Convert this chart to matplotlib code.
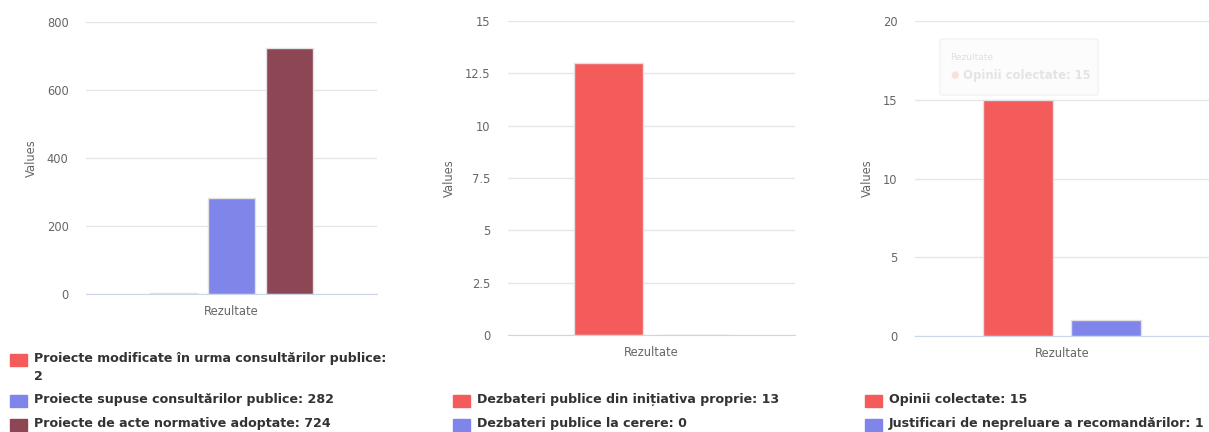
import textwrap

import matplotlib
matplotlib.use("Agg")
import matplotlib.pyplot as plt
from matplotlib.patches import Rectangle, FancyBboxPatch

W, H = 1209, 432

# data
category = "Rezultate"
names_1 = ["Proiecte modificate în urma consultărilor publice",
           "Proiecte supuse consultărilor publice",
           "Proiecte de acte normative adoptate"]
values_1 = [2, 282, 724]
names_2 = ["Dezbateri publice din inițiativa proprie",
           "Dezbateri publice la cerere"]
values_2 = [13, 0]
names_3 = ["Opinii colectate",
           "Justificari de nepreluare a recomandărilor"]
values_3 = [15, 1]

yticks_1 = [0, 200, 400, 600, 800]
yticks_2 = [0, 2.5, 5, 7.5, 10, 12.5, 15]
yticks_3 = [0, 5, 10, 15, 20]

colors = ["#f45b5b", "#8085e9", "#8d4654"]
grey = "#666666"

fig = plt.figure(figsize=(W / 100, H / 100), dpi=100)


def px_axes(left, top, right, bottom):
    return fig.add_axes([left / W, 1 - bottom / H, (right - left) / W, (bottom - top) / H])


def bar_panel(ax, values, yticks, label_x):
    n = len(values)
    group = 0.6
    step = group / n
    for i, v in enumerate(values):
        x = -group / 2 + step * (i + 0.5)
        ax.bar(x, v, width=step * 0.8, color=colors[i], edgecolor="#e2e2e2",
               linewidth=1.0, zorder=3)
    ax.set_xlim(-0.5, 0.5)
    ax.set_ylim(yticks[0], yticks[-1])
    ax.set_yticks(yticks)
    ax.set_yticklabels([f"{t:g}" for t in yticks])
    ax.set_xticks([0])
    ax.set_xticklabels([category])
    ax.tick_params(axis="y", length=0, pad=12.5, labelsize=8.3, labelcolor=grey)
    ax.tick_params(axis="x", length=0, pad=8, labelsize=8.3, labelcolor=grey)
    ax.grid(axis="y", color="#e6e6e6", linewidth=1, zorder=0)
    for s in ["top", "right", "left"]:
        ax.spines[s].set_visible(False)
    ax.spines["bottom"].set_color("#ccd6eb")
    ax.spines["bottom"].set_zorder(4)
    ax.text(label_x, 0.5, "Values", rotation=90, transform=ax.transAxes,
            ha="center", va="center", fontsize=8.3, color=grey)


def legend(x0, names, values):
    # legend sits at the bottom, long labels wrap onto a second line
    labels = [textwrap.fill(f"{n}: {v}", 50) for n, v in zip(names, values)]
    extra = sum(l.count("\n") for l in labels)
    y = 424 - 24 * (len(labels) - 1) - 17 * extra + 1
    for i, lab in enumerate(labels):
        fig.patches.append(Rectangle((x0 / W, 1 - (y + 6) / H), 17 / W, 12 / H,
                                     transform=fig.transFigure, color=colors[i]))
        fig.text((x0 + 24) / W, 1 - (y - 8) / H, lab, ha="left", va="top",
                 fontsize=9.1, fontweight="bold", color="#333333", linespacing=1.45)
        y += 24 + 17 * lab.count("\n")


ax1 = px_axes(86, 22, 377, 294)
bar_panel(ax1, values_1, yticks_1, (31 - 86) / 291)
ax2 = px_axes(508, 21, 795, 335)
bar_panel(ax2, values_2, yticks_2, (449 - 508) / 287)
ax3 = px_axes(915, 21, 1209, 336)
bar_panel(ax3, values_3, yticks_3, (867 - 915) / 294)

legend(10, names_1, values_1)
legend(453, names_2, values_2)
legend(865, names_3, values_3)

# faint hover tooltip left over on the third chart
tip = FancyBboxPatch((940 / W, 1 - 95 / H), 158 / W, 56 / H,
                     boxstyle="round,pad=0,rounding_size=0.003",
                     transform=fig.transFigure, facecolor="#fcfcfc",
                     edgecolor="#f2f2f2", linewidth=1)
fig.patches.append(tip)
fig.text(950 / W, 1 - 58 / H, category, fontsize=6.5, color="#e0e0e0", va="center")
fig.text(950 / W, 1 - 75 / H, "●", fontsize=7, color="#fbe0e0", va="center")
fig.text(963 / W, 1 - 75 / H, f"{names_3[0]}: {values_3[0]}", fontsize=8.4,
         fontweight="bold", color="#e4e4e4", va="center")

fig.savefig("out.png", dpi=100)
